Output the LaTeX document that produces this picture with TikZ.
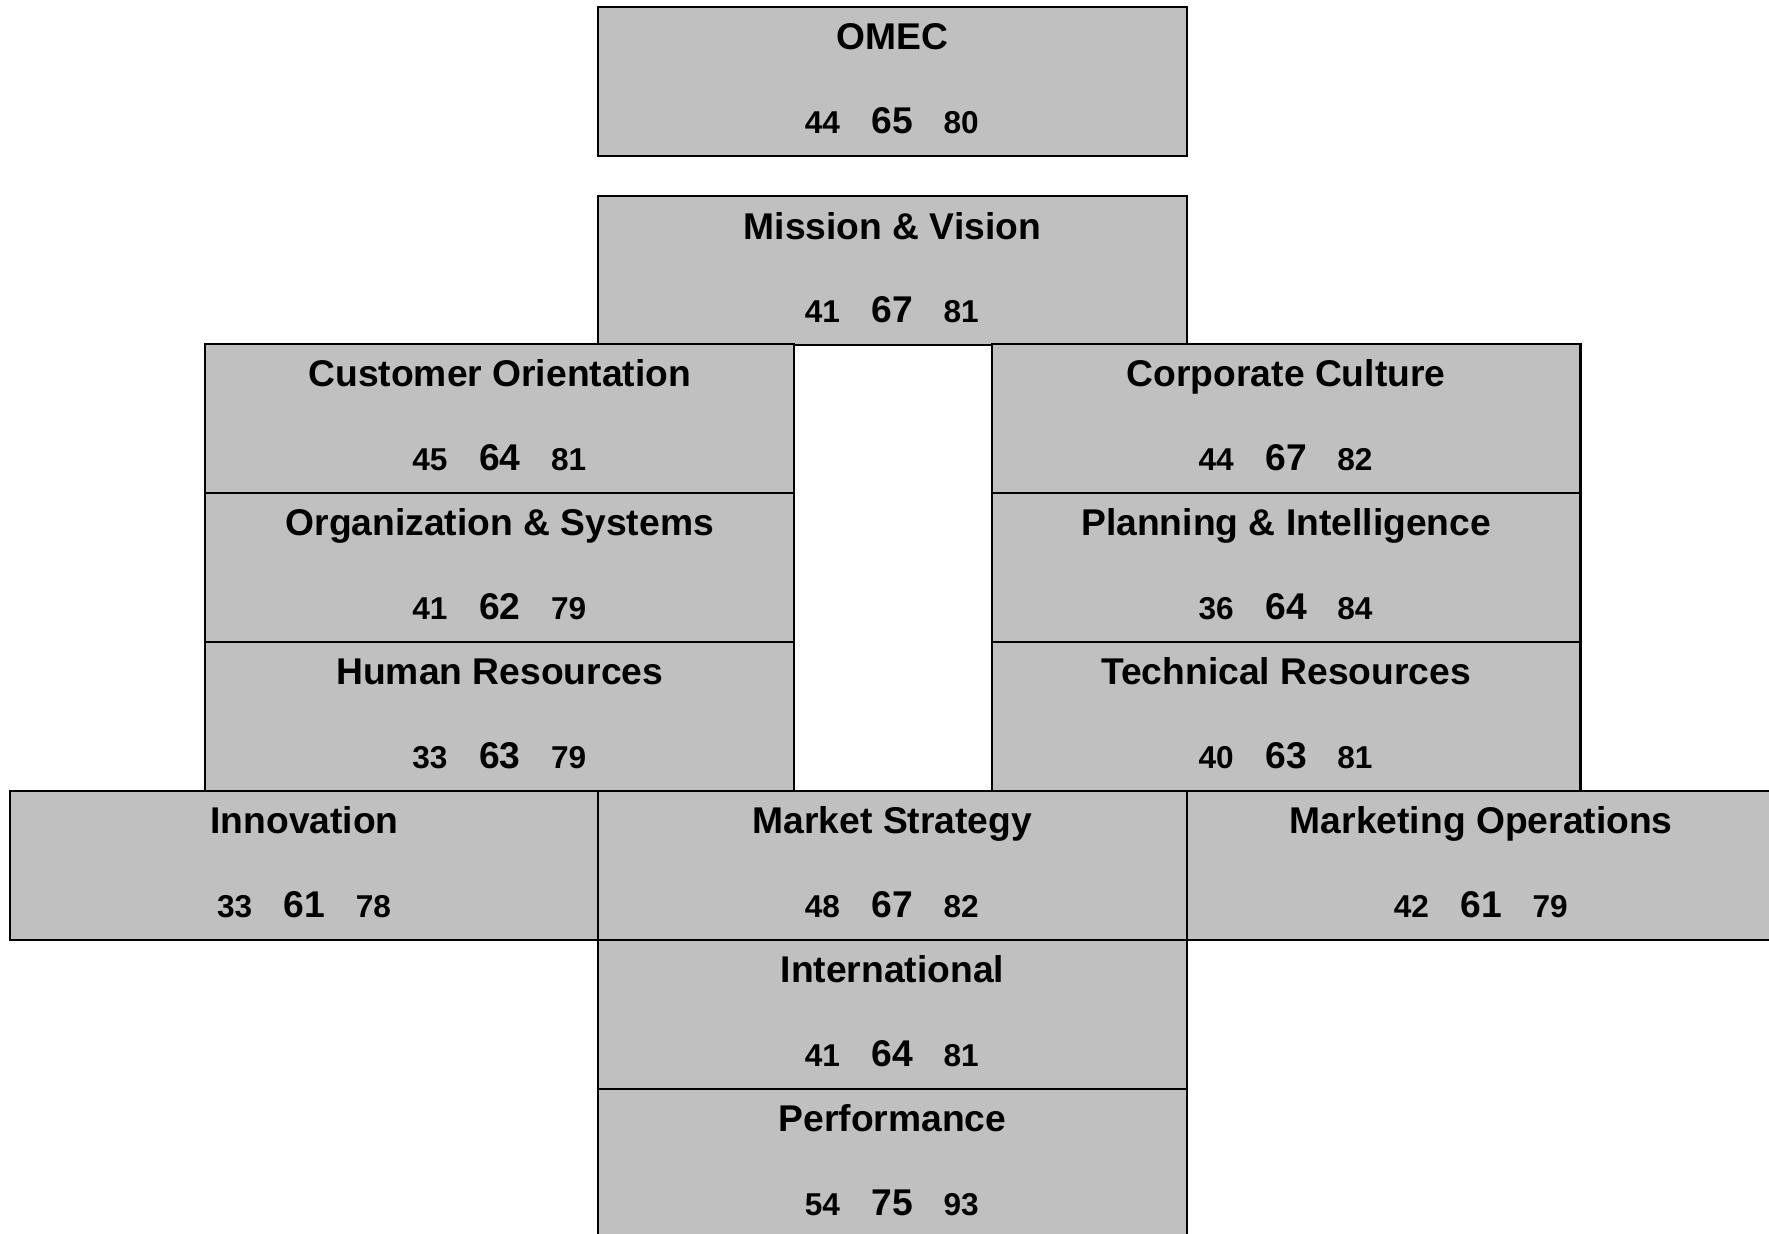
\documentclass[tikz,border=0pt]{standalone}
\usepackage{fontspec}
\setmainfont{Liberation Sans}
\definecolor{boxgray}{RGB}{192,192,192}
\tikzset{
  scorebox/.style={rectangle, draw=black, fill=boxgray, line width=2pt,
    minimum width=522pt, minimum height=132pt, anchor=north west,
    inner sep=0pt, outer sep=0pt},
  titletext/.style={anchor=base, inner sep=0pt,
    font=\fontsize{33}{36}\selectfont\bfseries},
  smallnum/.style={anchor=base, inner sep=0pt,
    font=\fontsize{28}{32}\selectfont\bfseries},
  bignum/.style={anchor=base, inner sep=0pt,
    font=\fontsize{33}{36}\selectfont\bfseries}
}
\newcommand\scorebox[7]{%
  \node[scorebox] (#1) at (#2,#3) {};
  \node[titletext] (#1-t) at ([yshift=-38pt]#1.north) {#4};
  \node[smallnum] (#1-a) at ([xshift=-62pt,yshift=-112pt]#1.north) {#5};
  \node[bignum] (#1-b) at ([yshift=-112pt]#1.north) {#6};
  \node[smallnum] (#1-c) at ([xshift=61pt,yshift=-112pt]#1.north) {#7};
}
\begin{document}
\begin{tikzpicture}[x=1pt,y=-1pt]
\useasboundingbox (0,0) rectangle (1568,1093);
\clip (0,0) rectangle (1568,1093);
\fill[white] (0,0) rectangle (1568,1093);
\scorebox{omec}{530}{6}{OMEC}{44}{65}{80}
\scorebox{mission}{530}{174}{Mission \& Vision}{41}{67}{81}
\scorebox{cust}{182}{305}{Customer Orientation}{45}{64}{81}
\scorebox{corp}{879}{305}{Corporate Culture}{44}{67}{82}
\scorebox{org}{182}{437}{Organization \& Systems}{41}{62}{79}
\scorebox{plan}{879}{437}{Planning \& Intelligence}{36}{64}{84}
\scorebox{hr}{182}{569}{Human Resources}{33}{63}{79}
\scorebox{tech}{879}{569}{Technical Resources}{40}{63}{81}
\scorebox{innov}{9}{701}{Innovation}{33}{61}{78}
\scorebox{mstrat}{530}{701}{Market Strategy}{48}{67}{82}
\scorebox{mops}{1052}{701}{Marketing Operations}{42}{61}{79}
\scorebox{intl}{530}{833}{International}{41}{64}{81}
\scorebox{perf}{530}{965}{Performance}{54}{75}{93}
\end{tikzpicture}
\end{document}
